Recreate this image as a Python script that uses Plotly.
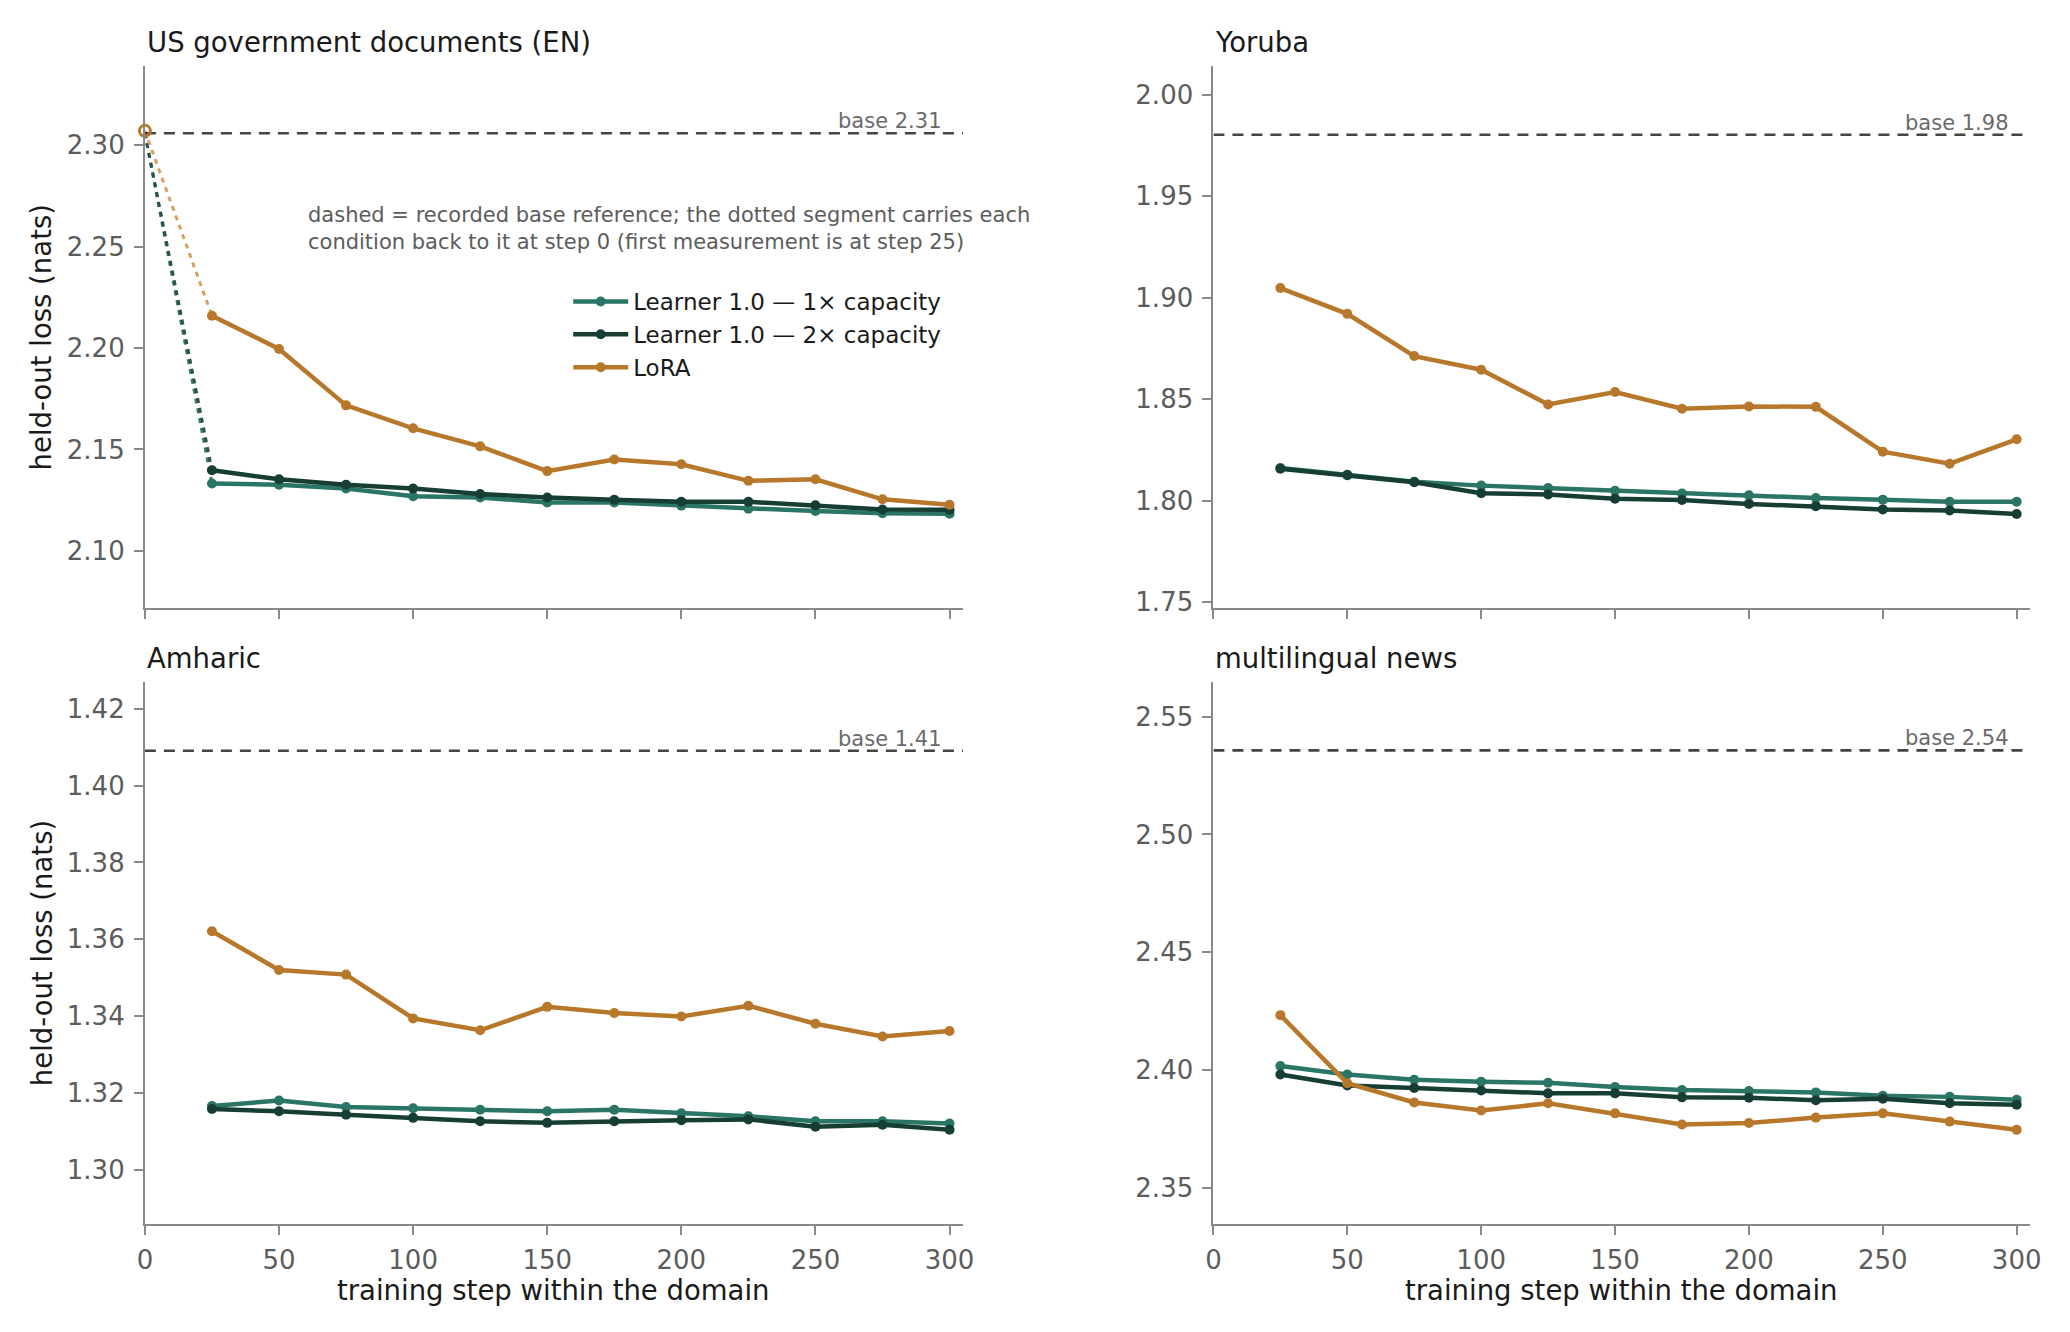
import plotly.graph_objects as go
from plotly.subplots import make_subplots

steps = [25, 50, 75, 100, 125, 150, 175, 200, 225, 250, 275, 300]

panel_names = ["US government documents (EN)", "Yoruba", "Amharic", "multilingual news"]
base_loss = [2.3058, 1.9802, 1.4091, 2.5357]

# held-out loss per panel (order: US gov, Yoruba, Amharic, multilingual)
learner_1x = [
    [2.1332, 2.1326, 2.1307, 2.1269, 2.1263, 2.1238, 2.1238, 2.1223, 2.1208, 2.1196, 2.1185, 2.1183],
    [1.8161, 1.8127, 1.8093, 1.8074, 1.8062, 1.8049, 1.8035, 1.8026, 1.8013, 1.8005, 1.7995, 1.7995],
    [1.3166, 1.3180, 1.3163, 1.3160, 1.3156, 1.3152, 1.3156, 1.3147, 1.3139, 1.3126, 1.3126, 1.3120],
    [2.4017, 2.3981, 2.3959, 2.3950, 2.3946, 2.3928, 2.3915, 2.3911, 2.3905, 2.3891, 2.3886, 2.3874],
]
learner_2x = [
    [2.1397, 2.1353, 2.1326, 2.1307, 2.1280, 2.1263, 2.1252, 2.1242, 2.1242, 2.1225, 2.1204, 2.1202],
    [1.8157, 1.8125, 1.8091, 1.8037, 1.8030, 1.8009, 1.8003, 1.7984, 1.7973, 1.7957, 1.7952, 1.7934],
    [1.3158, 1.3152, 1.3143, 1.3135, 1.3126, 1.3122, 1.3126, 1.3129, 1.3131, 1.3112, 1.3117, 1.3104],
    [2.3981, 2.3934, 2.3924, 2.3913, 2.3901, 2.3901, 2.3884, 2.3882, 2.3872, 2.3878, 2.3859, 2.3853],
]
lora = [
    [2.2159, 2.1995, 2.1717, 2.1604, 2.1515, 2.1393, 2.1450, 2.1427, 2.1345, 2.1353, 2.1254, 2.1227],
    [1.9047, 1.8920, 1.8712, 1.8645, 1.8474, 1.8535, 1.8453, 1.8464, 1.8462, 1.8241, 1.8182, 1.8302],
    [1.3621, 1.3520, 1.3508, 1.3394, 1.3363, 1.3424, 1.3408, 1.3399, 1.3427, 1.3380, 1.3347, 1.3361],
    [2.4233, 2.3944, 2.3862, 2.3828, 2.3859, 2.3816, 2.3769, 2.3775, 2.3798, 2.3816, 2.3781, 2.3746],
]
# step-0 values in the first panel (dotted segments back to the base)
step0_loss = [2.3058, 2.3058, 2.3070]

y_ranges = [[2.072, 2.339], [1.7473, 2.0141], [1.2859, 1.4271], [2.3347, 2.5649]]
y_ticks = [
    [2.10, 2.15, 2.20, 2.25, 2.30],
    [1.75, 1.80, 1.85, 1.90, 1.95, 2.00],
    [1.30, 1.32, 1.34, 1.36, 1.38, 1.40, 1.42],
    [2.35, 2.40, 2.45, 2.50, 2.55],
]
x_ticks = [0, 50, 100, 150, 200, 250, 300]

series_names = ["Learner 1.0 — 1× capacity", "Learner 1.0 — 2× capacity", "LoRA"]
series_colors = ["#2b7566", "#163e34", "#b8782b"]
dotted_colors = ["#3c7d6f", "#2a5249", "#d6a262"]

FONT = "DejaVu Sans"
AXIS_GREY = "#8a8a85"
TICK_TEXT = "#5c5c5c"

dom_x = [[0.0700, 0.4652], [0.5862, 0.9807]]
dom_y = [[0.5438, 0.9505], [0.0812, 0.4883]]

fig = make_subplots(rows=2, cols=2)

for p in range(4):
    row, col = p // 2 + 1, p % 2 + 1
    vals = [learner_1x[p], learner_2x[p], lora[p]]

    if p == 0:
        for s in range(3):
            fig.add_trace(go.Scatter(
                x=[0, steps[0]], y=[step0_loss[s], vals[s][0]], mode="lines",
                line=dict(color=dotted_colors[s], width=3, dash="5px,5px"),
                showlegend=False, hoverinfo="skip"), row=row, col=col)

    fig.add_trace(go.Scatter(
        x=[0, 305], y=[base_loss[p], base_loss[p]], mode="lines",
        line=dict(color="#444444", width=2.6, dash="11px,8px"),
        showlegend=False, hoverinfo="skip"), row=row, col=col)

    for s in range(3):
        fig.add_trace(go.Scatter(
            x=steps, y=vals[s], mode="lines+markers", name=series_names[s],
            line=dict(color=series_colors[s], width=4.5),
            marker=dict(color=series_colors[s], size=10),
            showlegend=(p == 0), cliponaxis=False), row=row, col=col)

    if p == 0:
        fig.add_trace(go.Scatter(
            x=[0], y=[step0_loss[2]], mode="markers",
            marker=dict(symbol="circle-open", color=series_colors[2], size=11,
                        line=dict(width=3, color=series_colors[2])),
            showlegend=False, cliponaxis=False, hoverinfo="skip"), row=row, col=col)

    fig.update_xaxes(
        domain=dom_x[col - 1], range=[0, 305], tickvals=x_ticks,
        showticklabels=(row == 2), row=row, col=col)
    fig.update_yaxes(
        domain=dom_y[row - 1], range=y_ranges[p], tickvals=y_ticks[p],
        tickformat=".2f", row=row, col=col)

    fig.add_annotation(
        xref="x domain" if p == 0 else f"x{p + 1} domain",
        yref="paper", x=0, y=(0.9687 if row == 1 else 0.5061),
        xanchor="left", yanchor="middle", showarrow=False,
        text=panel_names[p], font=dict(family=FONT, size=27.5, color="#1a1a1a"))

    fig.add_annotation(
        xref="x" if p == 0 else f"x{p + 1}", yref="y" if p == 0 else f"y{p + 1}",
        x=298, y=base_loss[p], xanchor="right", yanchor="bottom", yshift=-2,
        showarrow=False, text=f"base {base_loss[p]:.2f}",
        font=dict(family=FONT, size=21, color="#6a6a6a"))

fig.update_xaxes(
    showline=True, linecolor=AXIS_GREY, linewidth=2, showgrid=False, zeroline=False,
    ticks="outside", ticklen=9, tickwidth=2, tickcolor=AXIS_GREY, automargin=False,
    tickfont=dict(family=FONT, size=26, color=TICK_TEXT), ticklabelstandoff=3)
fig.update_yaxes(
    showline=True, linecolor=AXIS_GREY, linewidth=2, showgrid=False, zeroline=False,
    ticks="outside", ticklen=9, tickwidth=2, tickcolor=AXIS_GREY, automargin=False,
    tickfont=dict(family=FONT, size=26, color=TICK_TEXT), ticklabelstandoff=4)

# axis titles
for r, yc in [(1, 0.747), (2, 0.2847)]:
    fig.add_annotation(
        xref="paper", yref="paper", x=0.0200, y=yc, textangle=-90,
        xanchor="center", yanchor="middle", showarrow=False,
        text="held-out loss (nats)", font=dict(family=FONT, size=27.5, color="#1a1a1a"))
for c in range(2):
    fig.add_annotation(
        xref="paper", yref="paper", x=sum(dom_x[c]) / 2, y=0.0315,
        xanchor="center", yanchor="middle", showarrow=False,
        text="training step within the domain",
        font=dict(family=FONT, size=27.5, color="#1a1a1a"))

fig.add_annotation(
    xref="paper", yref="paper", x=0.1478, y=0.8288, xanchor="left", yanchor="middle",
    align="left", showarrow=False,
    text="dashed = recorded base reference; the dotted segment carries each<br>"
         "condition back to it at step 0 (first measurement is at step 25)",
    font=dict(family=FONT, size=21, color="#5c5c5c"))

fig.update_layout(
    width=2070, height=1332,
    margin=dict(l=0, r=0, t=0, b=0),
    plot_bgcolor="white", paper_bgcolor="white",
    font=dict(family=FONT),
    showlegend=True,
    legend=dict(
        x=0.2745, y=0.7898, xanchor="left", yanchor="top",
        bgcolor="rgba(0,0,0,0)", font=dict(family=FONT, size=23, color="#1a1a1a"),
        itemwidth=55, tracegroupgap=0),
)

fig.write_html("out.html", config={"displayModeBar": False},
               post_script="document.body.style.margin='0';")
